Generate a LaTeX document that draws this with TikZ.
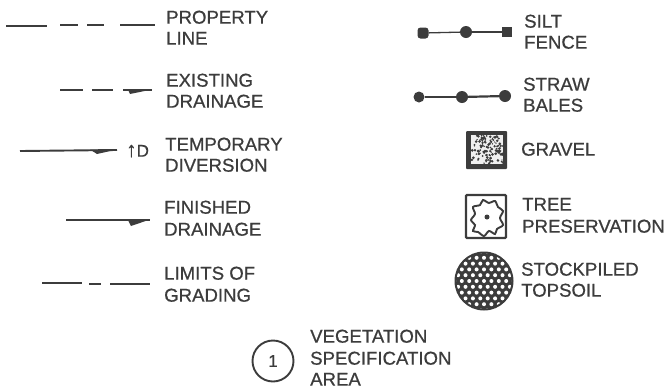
\documentclass[tikz,border=0pt]{standalone}
\usepackage{fontspec}
\setmainfont{Liberation Sans}[FakeBold=0.7]
\definecolor{ink}{HTML}{3C3C3C}
\tikzset{
  x=1pt,y=-1pt,
  lbl/.style={anchor=west,inner sep=0pt,text=ink,font=\fontsize{18.6}{18.6}\selectfont,align=left,text height=13.3pt,text depth=0pt},
  ln/.style={draw=ink,line width=1.6pt},
  hvy/.style={draw=ink,line width=2.2pt},
  tip/.style={fill=ink,draw=none},
  dot/.style={circle,fill=ink,draw=none,inner sep=0pt,minimum size=#1},
  sq/.style={rectangle,fill=ink,draw=none,inner sep=0pt,minimum size=#1},
  box/.style={draw=ink,line width=2.2pt,rounded corners=1pt}
}
\begin{document}
\begin{tikzpicture}
\useasboundingbox (0,0) rectangle (667,389);
% labels
\foreach \n/\x/\y/\t in {a1/166/17/PROPERTY,a2/166/38/LINE,b1/166/80/EXISTING,b2/166/101/DRAINAGE,
  c1/165/144/TEMPORARY,c2/165/165/DIVERSION,d1/164/207/FINISHED,d2/164/229/DRAINAGE,
  e1/164/273/LIMITS OF,e2/164/295/GRADING,
  v1/310/336/VEGETATION,v2/310/358/SPECIFICATION,v3/310/379/AREA,
  f1/524/21/SILT,f2/524/42/FENCE,g1/523/84/STRAW,g2/523/105/BALES,h1/521/149/GRAVEL,
  i1/522/204/TREE,i2/522/226/PRESERVATION,j1/521/269/STOCKPILED,j2/521/290/TOPSOIL}
  {\node[lbl] (\n) at (\x,\y) {\t};}
% property line
\coordinate (p0) at (6,26); \coordinate (p1) at (47,26);
\coordinate (p2) at (60,25); \coordinate (p3) at (78,25);
\coordinate (p4) at (87,25); \coordinate (p5) at (104,25);
\coordinate (p6) at (120,25); \coordinate (p7) at (155,25);
\draw[ln] (p0)--(p1); \draw[ln] (p2)--(p3); \draw[ln] (p4)--(p5); \draw[ln] (p6)--(p7);
% existing drainage
\coordinate (q0) at (60,90); \coordinate (q1) at (83,90);
\coordinate (q2) at (92,90); \coordinate (q3) at (113,90);
\coordinate (q4) at (123,90); \coordinate (q5) at (152,90);
\draw[ln] (q0)--(q1); \draw[ln] (q2)--(q3); \draw[ln] (q4)--(q5);
\fill[tip] (152,89.5) -- (128,89.5) -- (130,94) -- cycle;
% temporary diversion
\coordinate (r0) at (20,151); \coordinate (r1) at (117,150);
\draw[ln,line width=1.9pt] (r0)--(r1);
\fill[tip] (117,149.5) -- (90,149.5) -- (97,154) -- cycle;
\node[lbl] (td) at (126,150) {{\fontsize{21}{21}\selectfont ↑}\fontsize{17}{17}\selectfont D};
% finished drainage
\coordinate (s0) at (66,220); \coordinate (s1) at (150,220);
\draw[ln] (s0)--(s1);
\fill[tip] (150,219.5) -- (128,220) -- (131,226) -- cycle;
% limits of grading
\coordinate (t0) at (42,283); \coordinate (t1) at (82,283);
\coordinate (t2) at (89,284); \coordinate (t3) at (101,284);
\coordinate (t4) at (110,284); \coordinate (t5) at (150,284);
\draw[ln] (t0)--(t1); \draw[ln] (t2)--(t3); \draw[ln] (t4)--(t5);
% silt fence
\node[sq=11pt,rounded corners=3pt] (u0) at (423,33) {};
\node[dot=12pt] (u1) at (466,32) {};
\node[sq=10pt] (u2) at (507,32) {};
\draw[ln,line width=1.3pt] (u0)--(u1); \draw[ln] (u1)--(u2);
% straw bales
\node[dot=11pt] (w0) at (419,97) {};
\node[dot=12pt] (w1) at (462,97) {};
\node[dot=12pt] (w2) at (505,96) {};
\draw[hvy] (w0)--(w1); \draw[hvy] (w1)--(w2);
% gravel
\fill[ink,rounded corners=1pt] (466,131) rectangle (507,169);
\pgfmathsetseed{4217}
\begin{scope}
\clip (471,135) rectangle (503,164);
\fill[white!92!ink] (471,135) rectangle (503,164);
\foreach \i in {1,...,125}{
  \pgfmathsetmacro{\px}{471+32*rnd}
  \pgfmathsetmacro{\py}{135+29*rnd}
  \pgfmathsetmacro{\rr}{0.6+0.9*rnd}
  \fill[ink] (\px,\py) circle[radius=\rr];
}
\end{scope}
% tree preservation
\draw[box] (466,195) rectangle (506,238);
\draw[ink,line width=1.9pt,fill=white] plot[smooth cycle,tension=.55] coordinates {
  (471,220) (475,214) (473,207) (480,205) (483,200) (489,203) (495,201) (498,207) (503,211) (500,218) (503,225) (497,229) (495,234) (489,231) (484,236) (478,232) (473,231) (475,225)};
\node[dot=5pt] (tc) at (487,217) {};
% stockpiled topsoil
\begin{scope}
\clip (484,281) circle[radius=29];
\fill[ink] (484,281) circle[radius=29];
\foreach \r in {-7,...,7}{
  \foreach \c in {-7,...,7}{
    \pgfmathsetmacro{\px}{484+\c*7.4+mod(abs(\r),2)*3.7}
    \pgfmathsetmacro{\py}{281+\r*5.8}
    \fill[white] (\px,\py) circle[radius=2];
  }
}
\end{scope}
\draw[ink,line width=2pt] (484,281) circle[radius=28.5];
% vegetation circle
\node[circle,draw=ink,line width=1.9pt,minimum size=41pt,inner sep=0pt,text=ink,font=\fontsize{17}{17}\selectfont] (vc) at (273,361) {1};
\end{tikzpicture}
\end{document}
